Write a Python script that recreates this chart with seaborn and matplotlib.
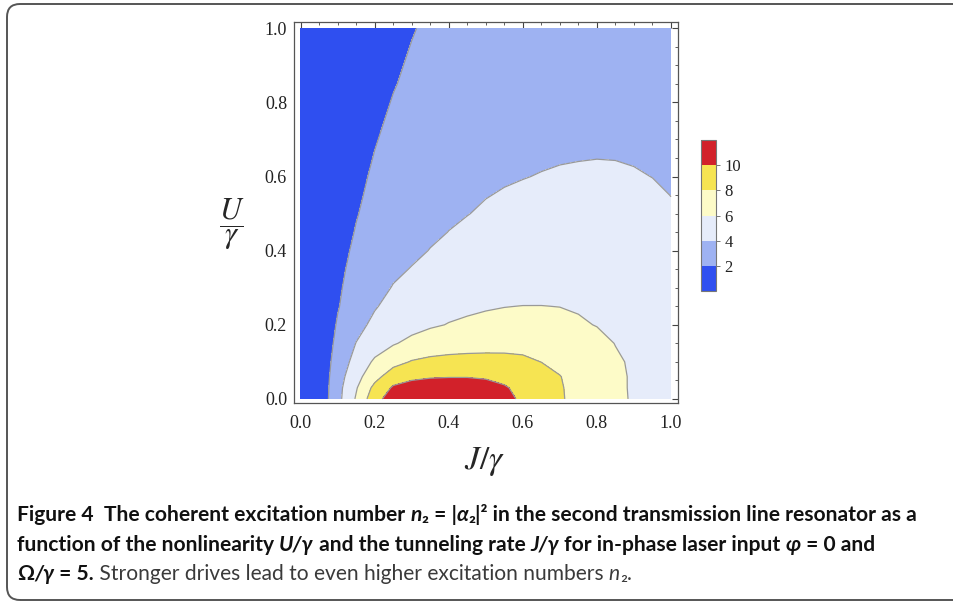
import matplotlib
matplotlib.use("Agg")
import numpy as np
import matplotlib.pyplot as plt
from matplotlib.font_manager import FontProperties
from matplotlib.patches import FancyBboxPatch
import seaborn as sns

# grid of the contour table
j_vals = [0, 0.05, 0.1, 0.15, 0.2, 0.25, 0.3, 0.35, 0.4, 0.45, 0.5,
          0.55, 0.6, 0.65, 0.7, 0.75, 0.8, 0.85, 0.9, 0.95, 1.0]
u_vals = [0, 0.03, 0.06, 0.1, 0.15, 0.2, 0.25, 0.3, 0.35, 0.4, 0.45,
          0.5, 0.55, 0.6, 0.65, 0.7, 0.85, 1.0]

# n2 estimated along each U row
n2_u000 = [0, 0.6, 3.4, 6.2, 9.3, 11.0, 11.6, 11.85, 11.9, 11.8, 11.5, 10.7, 9.58, 8.85, 8.18, 7.5, 6.87, 6.32, 5.85, 5.45, 5.1]
n2_u003 = [0, 0.54, 3.35, 5.84, 8.54, 10.24, 10.8, 11.0, 11.05, 10.95, 10.7, 10.15, 9.57, 8.85, 8.15, 7.45, 6.85, 6.3, 5.83, 5.42, 5.05]
n2_u006 = [0, 0.52, 3.16, 5.33, 7.36, 9.1, 9.6, 9.85, 9.92, 9.93, 9.8, 9.6, 9.3, 8.75, 8.05, 7.4, 6.8, 6.28, 5.84, 5.42, 5.05]
n2_u010 = [0, 0.6, 2.8, 4.7, 6.3, 7.35, 8.13, 8.45, 8.58, 8.62, 8.6, 8.52, 8.35, 7.98, 7.6, 7.15, 6.7, 6.22, 5.78, 5.38, 5.0]
n2_u015 = [0, 0.65, 2.43, 4.05, 5.05, 5.85, 6.45, 6.85, 7.1, 7.25, 7.35, 7.42, 7.42, 7.37, 7.25, 6.95, 6.5, 5.96, 5.5, 5.18, 4.9]
n2_u020 = [0, 0.65, 2.15, 3.38, 4.45, 5.0, 5.42, 5.8, 6.06, 6.22, 6.35, 6.45, 6.5, 6.48, 6.4, 6.2, 5.94, 5.63, 5.3, 5.02, 4.72]
n2_u025 = [0, 0.5, 1.9, 2.9, 3.85, 4.6, 5.05, 5.35, 5.58, 5.75, 5.88, 5.97, 6.02, 6.02, 5.98, 5.85, 5.65, 5.4, 5.1, 4.85, 4.6]
n2_u030 = [0, 0.45, 1.8, 2.6, 3.35, 4.1, 4.5, 4.8, 5.02, 5.17, 5.3, 5.42, 5.5, 5.54, 5.55, 5.48, 5.35, 5.17, 4.95, 4.72, 4.5]
n2_u035 = [0, 0.42, 1.7, 2.4, 3.07, 3.65, 4.08, 4.42, 4.68, 4.86, 4.98, 5.08, 5.17, 5.22, 5.24, 5.22, 5.14, 5.0, 4.82, 4.62, 4.4]
n2_u040 = [0, 0.4, 1.6, 2.22, 2.8, 3.25, 3.65, 4.05, 4.35, 4.52, 4.65, 4.76, 4.85, 4.91, 4.95, 4.94, 4.9, 4.82, 4.7, 4.52, 4.3]
n2_u045 = [0, 0.37, 1.4, 2.08, 2.62, 3.05, 3.42, 3.73, 4.02, 4.22, 4.38, 4.5, 4.6, 4.67, 4.71, 4.72, 4.7, 4.63, 4.53, 4.38, 4.2]
n2_u050 = [0, 0.35, 1.2, 1.93, 2.45, 2.85, 3.2, 3.48, 3.78, 3.97, 4.15, 4.26, 4.35, 4.42, 4.47, 4.5, 4.5, 4.46, 4.38, 4.26, 4.1]
n2_u055 = [0, 0.32, 1.1, 1.8, 2.32, 2.75, 3.08, 3.36, 3.6, 3.8, 3.96, 4.08, 4.16, 4.23, 4.28, 4.32, 4.33, 4.3, 4.23, 4.13, 3.99]
n2_u060 = [0, 0.3, 1.0, 1.67, 2.2, 2.65, 2.98, 3.25, 3.45, 3.63, 3.78, 3.89, 3.97, 4.04, 4.1, 4.13, 4.15, 4.13, 4.07, 3.99, 3.9]
n2_u065 = [0, 0.27, 0.92, 1.53, 2.06, 2.5, 2.83, 3.1, 3.3, 3.48, 3.62, 3.73, 3.82, 3.89, 3.94, 3.97, 3.99, 3.98, 3.94, 3.88, 3.8]
n2_u070 = [0, 0.25, 0.85, 1.4, 1.92, 2.35, 2.68, 2.95, 3.15, 3.31, 3.45, 3.57, 3.67, 3.74, 3.8, 3.83, 3.85, 3.84, 3.82, 3.77, 3.7]
n2_u085 = [0, 0.2, 0.7, 1.15, 1.55, 1.93, 2.25, 2.5, 2.72, 2.9, 3.05, 3.17, 3.28, 3.36, 3.42, 3.45, 3.47, 3.48, 3.47, 3.44, 3.4]
n2_u100 = [0, 0.15, 0.55, 0.95, 1.3, 1.6, 1.93, 2.2, 2.42, 2.6, 2.75, 2.87, 2.98, 3.06, 3.12, 3.16, 3.18, 3.2, 3.2, 3.18, 3.15]

levels = [0, 2, 4, 6, 8, 10, 12]
cbar_ticks = [2, 4, 6, 8, 10]
axis_ticks = [0.0, 0.2, 0.4, 0.6, 0.8, 1.0]

colors = ["#2f4ff0", "#9eb2f2", "#e6ecfa", "#fdfbc8", "#f6e452", "#d2212a"]

n2 = np.array([n2_u000, n2_u003, n2_u006, n2_u010, n2_u015, n2_u020, n2_u025,
               n2_u030, n2_u035, n2_u040, n2_u045, n2_u050, n2_u055, n2_u060,
               n2_u065, n2_u070, n2_u085, n2_u100])

sns.set_theme(style="white")
plt.rcParams["mathtext.fontset"] = "stix"
plt.rcParams["font.family"] = ["Liberation Serif", "DejaVu Serif"]

W, H = 954, 602
fig = plt.figure(figsize=(W / 100, H / 100), dpi=100)


def px_box(left, top, right, bottom):
    return [left / W, 1 - bottom / H, (right - left) / W, (bottom - top) / H]


ax = fig.add_axes(px_box(294, 22, 678, 403))
cf = ax.contourf(j_vals, u_vals, n2, levels=levels, colors=colors)
ax.contour(j_vals, u_vals, n2, levels=levels[1:-1], colors="#999999", linewidths=0.9)

ax.set_xlim(-0.018, 1.019)
ax.set_ylim(-0.011, 1.017)
ax.set_xticks(axis_ticks)
ax.set_yticks(axis_ticks)
ax.set_xticklabels([f"{t:.1f}" for t in axis_ticks])
ax.set_yticklabels([f"{t:.1f}" for t in axis_ticks])
ax.set_xticks(np.arange(0, 1.001, 0.05), minor=True)
ax.set_yticks(np.arange(0, 1.001, 0.05), minor=True)
ax.tick_params(which="both", direction="in", top=True, right=True, color="#444444",
               labelsize=13, labelcolor="#222222")
ax.tick_params(which="major", length=4.5, width=0.8)
ax.tick_params(which="minor", length=2.3, width=0.6)
ax.tick_params(axis="x", pad=9)
ax.tick_params(axis="y", pad=5)
for sp in ax.spines.values():
    sp.set_color("#555555")
    sp.set_linewidth(0.9)

fig.text(484 / W, 1 - 462 / H, r"$J/\gamma$", fontsize=24, ha="center", va="center")
fig.text(232 / W, 1 - 224 / H, r"$\dfrac{U}{\gamma}$", fontsize=22, ha="center", va="center")

# colour legend
cax = fig.add_axes(px_box(701, 140, 716, 291))
cb = fig.colorbar(cf, cax=cax, ticks=cbar_ticks)
cb.outline.set_edgecolor("#777777")
cb.outline.set_linewidth(0.8)
cax.tick_params(direction="out", length=3, width=0.7, color="#777777", labelsize=12,
                pad=3, labelcolor="#222222")

# caption
cap_fonts = ["Lato", "DejaVu Sans"]
renderer = fig.canvas.get_renderer()


def seg_width(text, prop):
    bar = renderer.get_text_width_height_descent("|", prop, ismath=False)[0]
    return renderer.get_text_width_height_descent(text + "|", prop, ismath=False)[0] - bar


def make_prop(weight, style, size):
    return FontProperties(family=cap_fonts, weight=weight, style=style, size=size)


def draw_line(x, y, segs, size, draw=True):
    for text, weight, style, color in segs:
        prop = make_prop(weight, style, size)
        if draw:
            fig.text(x / W, 1 - y / H, text, fontproperties=prop, color=color,
                     va="baseline", ha="left")
        x += seg_width(text, prop)
    return x


B, K, G = "bold", "#111111", "#3a3a3a"
line1 = [("Figure 4  The coherent excitation number ", B, "normal", K),
         ("n", B, "italic", K), ("\u2082", B, "normal", K), (" = |", B, "normal", K),
         ("\u03b1", B, "italic", K), ("\u2082", B, "normal", K),
         ("|\u00b2 in the second transmission line resonator as a", B, "normal", K)]
line2 = [("function of the nonlinearity ", B, "normal", K), ("U/\u03b3", B, "italic", K),
         (" and the tunneling rate ", B, "normal", K), ("J/\u03b3", B, "italic", K),
         (" for in-phase laser input ", B, "normal", K), ("\u03c6", B, "italic", K),
         (" = 0 and", B, "normal", K)]
line3 = [("\u03a9", B, "normal", K), ("/\u03b3", B, "italic", K), (" = 5.", B, "normal", K),
         (" Stronger drives lead to even higher excitation numbers ", "normal", "normal", G),
         ("n", "normal", "italic", G), ("\u2082", "normal", "normal", G), (".", "normal", "normal", G)]

cap_size = 10 * (917 - 17) / (draw_line(17, 0, line1, 10, draw=False) - 17)
draw_line(17, 521, line1, cap_size)
draw_line(17, 551, line2, cap_size)
draw_line(17, 580, line3, cap_size)

# rounded frame around the figure panel
frame = FancyBboxPatch((7, 2), 990, 596, boxstyle="round,pad=0,rounding_size=13",
                       transform=None, fill=False, edgecolor="#555555", linewidth=1.4,
                       clip_on=False)
fig.patches.append(frame)

fig.savefig("out.png", dpi=100)
